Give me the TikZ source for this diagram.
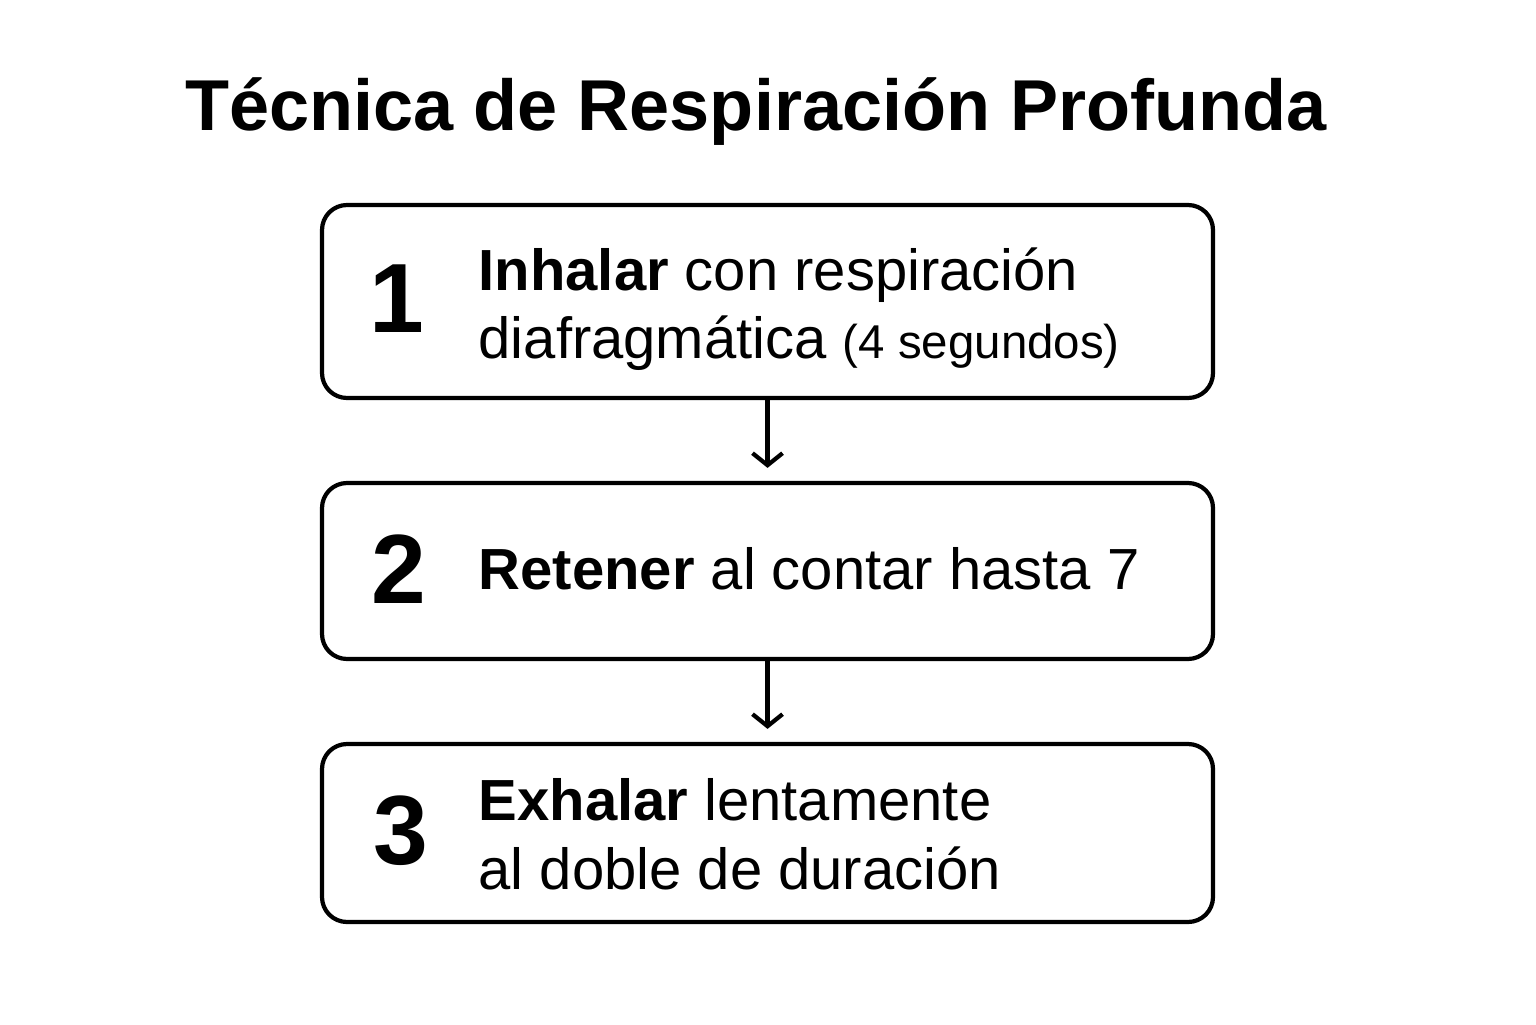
\documentclass[tikz,border=0pt]{standalone}
\usepackage{fontspec}
\setmainfont{Liberation Sans}
\usetikzlibrary{positioning, arrows.meta}

\begin{document}
\begin{tikzpicture}[
  every node/.style={align=left},
  stepbox/.style={rectangle, rounded corners=0.25cm, draw=black, line width=1.2pt, minimum width=8.91cm},
  num/.style={font=\fontsize{28}{32}\selectfont\bfseries, anchor=center},
  txt/.style={font=\fontsize{16.5}{19.5}\selectfont, anchor=west, inner sep=0pt},
  arr/.style={-{Straight Barb[length=0.12cm, width=0.3cm]}, line width=1.2pt, shorten >=0.13cm}
]
\useasboundingbox (0,0) rectangle (15.36,10.24);

% Title
\node[font=\fontsize{20.5}{24}\selectfont\bfseries] (title) at (7.56,9.12) {Técnica de Respiración Profunda};

% Boxes
\node[stepbox, minimum height=1.93cm] (s1) at (7.675,7.225) {};
\node[stepbox, minimum height=1.76cm] (s2) at (7.675,4.53) {};
\node[stepbox, minimum height=1.78cm] (s3) at (7.675,1.91) {};

% Numbers
\node[num] (n1) at (3.97,7.25) {1};
\node[num] (n2) at (3.99,4.55) {2};
\node[num] (n3) at (4.01,1.93) {3};

% Texts
\node[txt] (t1) at (4.78,7.15) {\textbf{Inhalar} con respiración\\diafragmática {\fontsize{13.5}{16}\selectfont (4 segundos)}};
\node[txt] (t2) at (4.78,4.55) {\textbf{Retener} al contar hasta 7};
\node[txt] (t3) at (4.78,1.9) {\textbf{Exhalar} lentamente\\al doble de duración};

% Arrows
\draw[arr] (s1.south) -- (s2.north);
\draw[arr] (s2.south) -- (s3.north);

\end{tikzpicture}
\end{document}
